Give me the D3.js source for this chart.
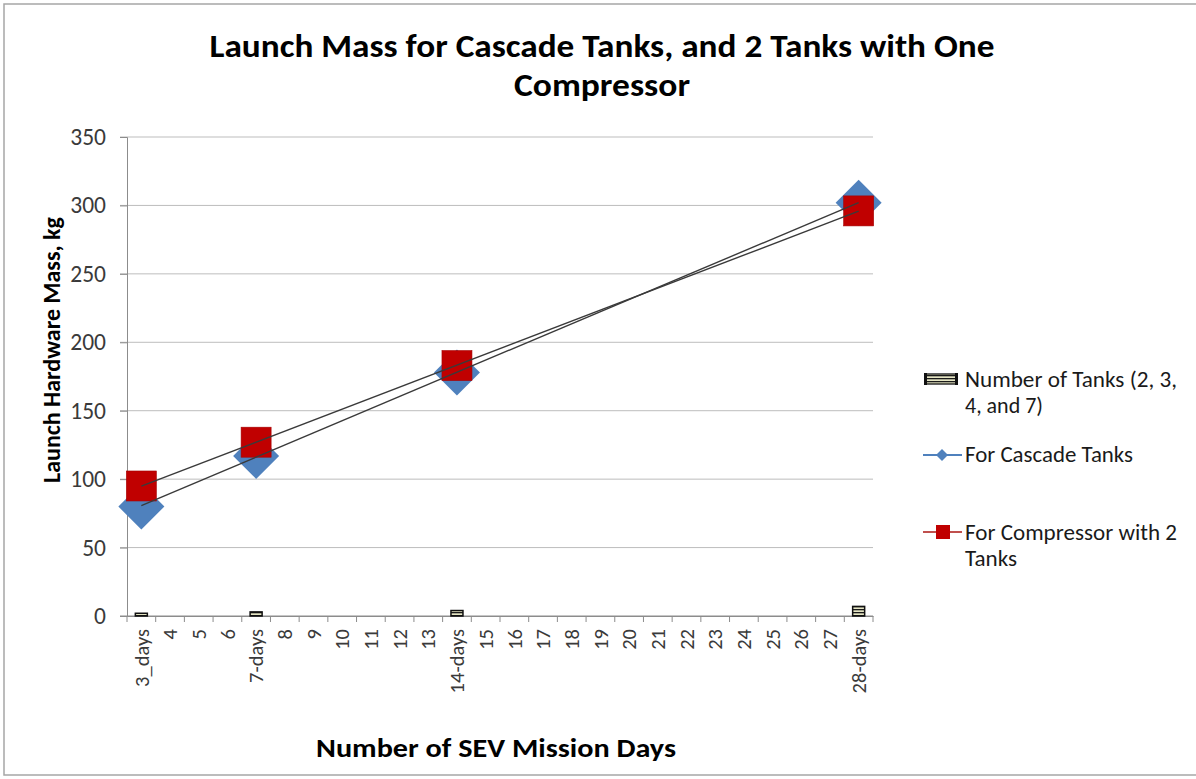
<!DOCTYPE html>
<html>
<head>
<meta charset="utf-8">
<script src="https://cdn.jsdelivr.net/npm/d3@7"></script>
<style>
  html, body { margin: 0; padding: 0; background: #fff; }
  svg { display: block; font-family: Carlito, Calibri, Lato, "Open Sans", sans-serif; }
</style>
</head>
<body>
<svg id="chart" width="1196" height="779"></svg>
<script>
// ---- data ----
const categories = ["3_days","4","5","6","7-days","8","9","10","11","12","13","14-days",
  "15","16","17","18","19","20","21","22","23","24","25","26","27","28-days"];
const missionDays = ["3_days","7-days","14-days","28-days"];
const numberOfTanks = [2, 3, 4, 7];
const cascadeTanks = [80, 117, 178, 302];
const compressorTanks = [95, 127, 183, 296];
const yTicks = [0, 50, 100, 150, 200, 250, 300, 350];
const titleLines = ["Launch Mass for Cascade Tanks, and 2 Tanks with One", "Compressor"];
const legendLabels = [["Number of Tanks (2, 3,", "4, and 7)"], ["For Cascade Tanks"], ["For Compressor with 2", "Tanks"]];

const svg = d3.select("#chart");
const m = { left: 127, right: 873, top: 137, bottom: 616 };
const FONT = "Carlito, Calibri, Lato, sans-serif";

// outer border
svg.append("rect").attr("x", 4).attr("y", 4).attr("width", 1200).attr("height", 771)
  .attr("fill", "#fff").attr("stroke", "#a6a6a6").attr("stroke-width", 1.5);

const x = d3.scaleBand().domain(categories).range([m.left, m.right]).padding(0);
const y = d3.scaleLinear().domain([0, 350]).range([m.bottom, m.top]);

// pattern for bars
const defs = svg.append("defs");
const pat = defs.append("pattern").attr("id", "stripes").attr("patternUnits", "userSpaceOnUse")
  .attr("width", 6).attr("height", 3);
pat.append("rect").attr("width", 6).attr("height", 3).attr("fill", "#e6e6c4");
pat.append("rect").attr("y", 0).attr("width", 6).attr("height", 1.3).attr("fill", "#1a1a1a");

// gridlines
svg.append("g").selectAll("line").data(yTicks).join("line")
  .attr("x1", m.left - 7).attr("x2", m.right)
  .attr("y1", d => y(d)).attr("y2", d => y(d))
  .attr("stroke", d => d === 0 ? "#8c8c8c" : "#bdbdbd").attr("stroke-width", 1);

// y axis
const yAxis = svg.append("g").attr("transform", `translate(${m.left},0)`)
  .call(d3.axisLeft(y).tickValues(yTicks).tickSize(7).tickPadding(14));
yAxis.select(".domain").attr("stroke", "#8c8c8c");
yAxis.selectAll(".tick line").attr("stroke", "#8c8c8c");
yAxis.selectAll(".tick text")
  .style("font-size", "23.5px").attr("fill", "#3a3a3a")
  .style("font-family", FONT);

// x axis
const xAxis = svg.append("g").attr("transform", `translate(0,${m.bottom})`)
  .call(d3.axisBottom(x).tickSize(0).tickPadding(0));
xAxis.select(".domain").attr("stroke", "#8c8c8c");
xAxis.selectAll(".tick text")
  .attr("transform", "rotate(-90)")
  .attr("text-anchor", "end")
  .attr("x", -13).attr("y", 0).attr("dy", "0.35em")
  .style("font-size", "20.5px").attr("fill", "#3a3a3a")
  .style("font-family", FONT);
// boundary ticks
svg.append("g").selectAll("line").data(categories.concat(["__end"])).join("line")
  .attr("x1", (d, i) => m.left + i * x.bandwidth()).attr("x2", (d, i) => m.left + i * x.bandwidth())
  .attr("y1", m.bottom).attr("y2", m.bottom + 6)
  .attr("stroke", "#8c8c8c");

// bars: number of tanks (same value axis)
const barW = 12;
svg.append("g").selectAll("rect").data(missionDays).join("rect")
  .attr("x", d => x(d) + x.bandwidth() / 2 - barW / 2)
  .attr("width", barW)
  .attr("y", (d, i) => y(numberOfTanks[i]))
  .attr("height", (d, i) => y(0) - y(numberOfTanks[i]))
  .attr("fill", "url(#stripes)").attr("stroke", "#111").attr("stroke-width", 1.5);

const cx = d => x(d) + x.bandwidth() / 2;
const diamondR = 23, squareS = 30;

// cascade markers (diamonds)
svg.append("g").selectAll("path").data(missionDays).join("path")
  .attr("d", (d, i) => {
    const px = cx(d), py = y(cascadeTanks[i]);
    return `M${px},${py - diamondR}L${px + diamondR},${py}L${px},${py + diamondR}L${px - diamondR},${py}Z`;
  })
  .attr("fill", "#4f81bd");

// compressor markers (squares)
svg.append("g").selectAll("rect").data(missionDays).join("rect")
  .attr("x", d => cx(d) - squareS / 2)
  .attr("y", (d, i) => y(compressorTanks[i]) - squareS / 2)
  .attr("width", squareS).attr("height", squareS)
  .attr("fill", "#c00000").attr("stroke", "#a50000").attr("stroke-width", 0.6);

// linear trendlines (least squares over category position)
function trend(vals) {
  const xs = missionDays.map(d => categories.indexOf(d));
  const mx = d3.mean(xs), my = d3.mean(vals);
  const sxy = d3.sum(xs, (v, i) => (v - mx) * (vals[i] - my));
  const sxx = d3.sum(xs, v => (v - mx) * (v - mx));
  const b = sxy / sxx, a = my - b * mx;
  const x0 = xs[0], x1 = xs[xs.length - 1];
  return [[x0, a + b * x0], [x1, a + b * x1]];
}
const posX = idx => m.left + (idx + 0.5) * x.bandwidth();
[cascadeTanks, compressorTanks].forEach(vals => {
  const t = trend(vals);
  svg.append("line")
    .attr("x1", posX(t[0][0])).attr("y1", y(t[0][1]))
    .attr("x2", posX(t[1][0])).attr("y2", y(t[1][1]))
    .attr("stroke", "#3a3a3a").attr("stroke-width", 1.4);
});

// title
const titleW = [785, 176];
svg.append("g").selectAll("text").data(titleLines).join("text")
  .attr("x", 602).attr("y", (d, i) => 57 + i * 39)
  .attr("text-anchor", "middle")
  .attr("font-size", 32).attr("font-weight", "bold").attr("fill", "#000")
  .attr("textLength", (d, i) => titleW[i]).attr("lengthAdjust", "spacingAndGlyphs")
  .text(d => d);

// axis titles
svg.append("text").attr("transform", "translate(60,350) rotate(-90)")
  .attr("text-anchor", "middle").attr("font-size", 24).attr("font-weight", "bold")
  .attr("textLength", 266).attr("lengthAdjust", "spacingAndGlyphs")
  .text("Launch Hardware Mass, kg");
svg.append("text").attr("x", 496).attr("y", 757)
  .attr("text-anchor", "middle").attr("font-size", 27).attr("font-weight", "bold")
  .attr("textLength", 360).attr("lengthAdjust", "spacingAndGlyphs")
  .text("Number of SEV Mission Days");

// legend
const lg = svg.append("g");
// bar icon
lg.append("rect").attr("x", 925).attr("y", 374).attr("width", 32).attr("height", 10)
  .attr("fill", "url(#stripes)").attr("stroke", "#111").attr("stroke-width", 1.3);
lg.append("rect").attr("x", 924).attr("y", 373).attr("width", 3).attr("height", 12).attr("fill", "#111");
lg.append("rect").attr("x", 955).attr("y", 373).attr("width", 3).attr("height", 12).attr("fill", "#111");
// cascade icon
lg.append("line").attr("x1", 923).attr("x2", 962).attr("y1", 455).attr("y2", 455)
  .attr("stroke", "#4f81bd").attr("stroke-width", 2.2);
lg.append("path").attr("d", "M942,449L948,455L942,461L936,455Z").attr("fill", "#4f81bd");
// compressor icon
lg.append("line").attr("x1", 923).attr("x2", 962).attr("y1", 532).attr("y2", 532)
  .attr("stroke", "#c0504d").attr("stroke-width", 2.2);
lg.append("rect").attr("x", 936).attr("y", 525).attr("width", 14).attr("height", 14).attr("fill", "#c00000");

const legendY = [387, 462, 540];
const legendW = [[212, 78], [168], [212, 52]];
legendLabels.forEach((lines, k) => {
  lines.forEach((t, j) => {
    lg.append("text").attr("x", 965).attr("y", legendY[k] + j * 26)
      .attr("font-size", 21.5).attr("fill", "#1a1a1a")
      .attr("textLength", legendW[k][j]).attr("lengthAdjust", "spacingAndGlyphs")
      .text(t);
  });
});
</script>
</body>
</html>
